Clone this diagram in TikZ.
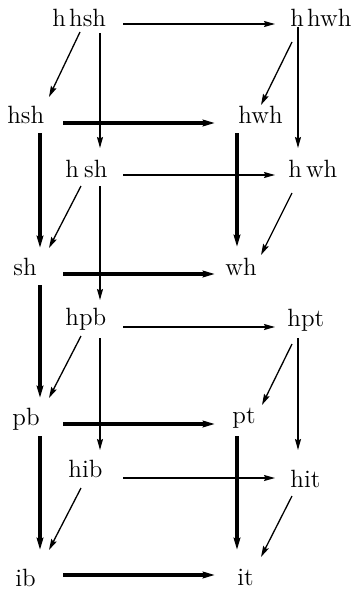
\documentclass[tikz,border=0pt]{standalone}
\usetikzlibrary{arrows.meta}
\begin{document}
\begin{tikzpicture}[x=0.5pt,y=-0.5pt,
  lbl/.style={anchor=base west,inner sep=0pt,font=\fontsize{12.5}{15}\selectfont},
  tarr/.style={line width=0.65pt,-{Stealth[length=5.5pt,width=3pt,inset=0.8pt]}},
  karr/.style={line width=2.1pt,-{Stealth[length=6pt,width=3.2pt,inset=0.6pt]}}]
\useasboundingbox (0,0) rectangle (350,589);
% labels
\node[lbl] (hhsh) at (52,26) {h\hspace{1.6pt}hsh};
\node[lbl] (hhwh) at (290,26) {h\hspace{1.6pt}hwh};
\node[lbl] (hsh) at (7,123) {hsh};
\node[lbl] (hwh) at (238,123) {hwh};
\node[lbl] (hsh2) at (65,177) {h\hspace{2.6pt}sh};
\node[lbl] (hwh2) at (288,177) {h\hspace{2pt}wh};
\node[lbl] (sh) at (13,275) {sh};
\node[lbl] (wh) at (225,275) {wh};
\node[lbl] (hpb) at (65,325) {hpb};
\node[lbl] (hpt) at (287,326) {hpt};
\node[lbl] (pb) at (12,425) {pb};
\node[lbl] (pt) at (232,423) {pt};
\node[lbl] (hib) at (68,477) {hib};
\node[lbl] (hit) at (290,487) {hit};
\node[lbl] (ib) at (15,586) {ib};
\node[lbl] (it) at (237,585) {it};
% arrow end points
\coordinate (a1s) at (123,24);  \coordinate (a1e) at (275,24);
\coordinate (a2s) at (80,32);   \coordinate (a2e) at (49,97);
\coordinate (a3s) at (100,33);  \coordinate (a3e) at (100,148);
\coordinate (a4s) at (292,42);  \coordinate (a4e) at (261,105);
\coordinate (a5s) at (298,27);  \coordinate (a5e) at (298,148);
\coordinate (a6s) at (63,123);  \coordinate (a6e) at (215,123);
\coordinate (a7s) at (40,133);  \coordinate (a7e) at (40,248);
\coordinate (a8s) at (123,175); \coordinate (a8e) at (275,175);
\coordinate (a9s) at (81,186);  \coordinate (a9e) at (49,248);
\coordinate (a10s) at (100,186); \coordinate (a10e) at (100,300);
\coordinate (a11s) at (237,133); \coordinate (a11e) at (237,247);
\coordinate (a12s) at (292,193); \coordinate (a12e) at (261,255);
\coordinate (a13s) at (63,274); \coordinate (a13e) at (215,274);
\coordinate (a14s) at (40,285); \coordinate (a14e) at (40,398);
\coordinate (a15s) at (123,327); \coordinate (a15e) at (275,327);
\coordinate (a16s) at (81,336); \coordinate (a16e) at (49,398);
\coordinate (a17s) at (100,338); \coordinate (a17e) at (100,450);
\coordinate (a18s) at (292,344); \coordinate (a18e) at (262,405);
\coordinate (a19s) at (298,338); \coordinate (a19e) at (298,450);
\coordinate (a20s) at (63,424); \coordinate (a20e) at (215,424);
\coordinate (a21s) at (40,436); \coordinate (a21e) at (40,550);
\coordinate (a22s) at (237,436); \coordinate (a22e) at (237,550);
\coordinate (a23s) at (123,478); \coordinate (a23e) at (275,478);
\coordinate (a24s) at (81,488); \coordinate (a24e) at (49,550);
\coordinate (a25s) at (292,496); \coordinate (a25e) at (261,557);
\coordinate (a26s) at (63,575); \coordinate (a26e) at (215,575);
% thin arrows
\foreach \i in {1,2,3,4,5,8,9,10,12,15,16,17,18,19,23,24,25}
  \draw[tarr] (a\i s) -- (a\i e);
% thick arrows
\foreach \i in {6,7,11,13,14,20,21,22,26}
  \draw[karr] (a\i s) -- (a\i e);
\end{tikzpicture}
\end{document}
